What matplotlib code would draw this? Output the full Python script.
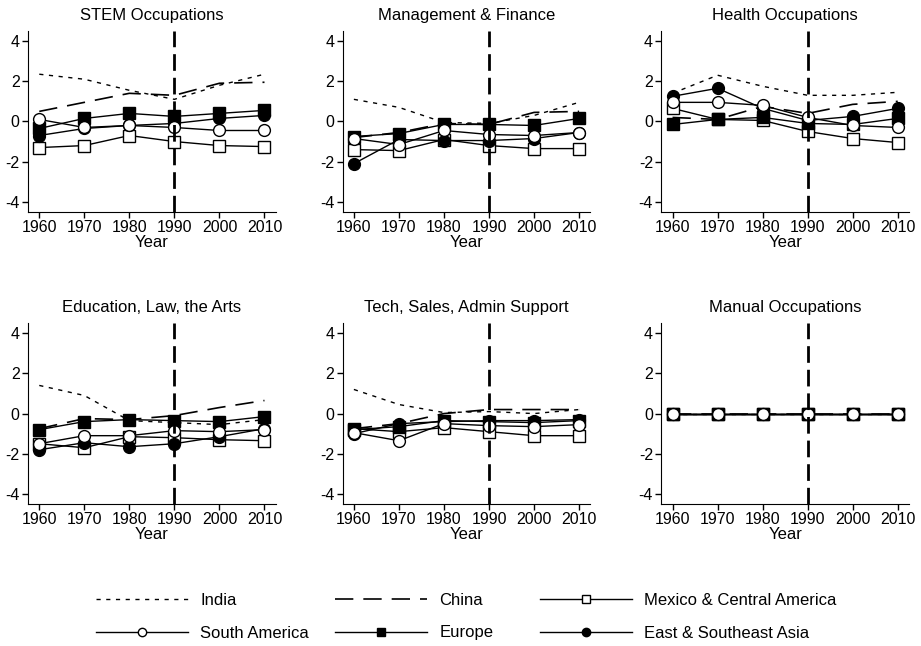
import matplotlib
matplotlib.use('Agg')
import matplotlib.pyplot as plt
from matplotlib.lines import Line2D

plt.rcParams['font.family'] = ['Liberation Sans', 'DejaVu Sans']

years = [1960, 1970, 1980, 1990, 2000, 2010]
panels = ['STEM Occupations', 'Management & Finance', 'Health Occupations',
          'Education, Law, the Arts', 'Tech, Sales, Admin Support', 'Manual Occupations']

# values per region, one list per panel (same order as panels)
india = [
    [2.35, 2.1, 1.55, 1.1, 1.8, 2.35],
    [1.1, 0.7, -0.05, -0.1, 0.3, 0.95],
    [1.4, 2.3, 1.75, 1.3, 1.3, 1.45],
    [1.4, 0.9, -0.35, -0.45, -0.55, -0.3],
    [1.2, 0.45, 0.05, 0.1, 0.0, 0.2],
    [0, 0, 0, 0, 0, 0],
]
china = [
    [0.5, 0.95, 1.4, 1.3, 1.9, 1.95],
    [-0.8, -0.55, -0.1, -0.15, 0.45, 0.5],
    [0.2, 0.1, 0.75, 0.4, 0.85, 1.0],
    [-0.75, -0.25, -0.3, -0.1, 0.3, 0.65],
    [-0.75, -0.5, 0.0, 0.2, 0.2, 0.2],
    [0, 0, 0, 0, 0, 0],
]
mexico = [
    [-1.3, -1.2, -0.7, -1.0, -1.2, -1.25],
    [-1.4, -1.45, -0.9, -1.2, -1.35, -1.35],
    [0.65, 0.1, 0.05, -0.5, -0.85, -1.05],
    [-1.5, -1.7, -1.15, -1.2, -1.3, -1.35],
    [-0.75, -0.9, -0.7, -0.9, -1.1, -1.1],
    [0, 0, 0, 0, 0, 0],
]
south_am = [
    [0.1, -0.3, -0.2, -0.3, -0.45, -0.45],
    [-0.85, -1.15, -0.45, -0.65, -0.7, -0.55],
    [0.95, 0.95, 0.8, 0.2, -0.2, -0.3],
    [-1.5, -1.1, -1.1, -0.85, -0.9, -0.8],
    [-0.95, -1.35, -0.5, -0.6, -0.65, -0.55],
    [0, 0, 0, 0, 0, 0],
]
europe = [
    [-0.35, 0.15, 0.4, 0.25, 0.4, 0.55],
    [-0.75, -0.6, -0.15, -0.15, -0.2, 0.15],
    [-0.15, 0.1, 0.2, -0.1, -0.15, 0.15],
    [-0.8, -0.4, -0.3, -0.35, -0.4, -0.15],
    [-0.8, -0.65, -0.35, -0.4, -0.45, -0.35],
    [0, 0, 0, 0, 0, 0],
]
east_asia = [
    [-0.7, -0.35, -0.2, -0.1, 0.15, 0.3],
    [-2.1, -0.9, -0.95, -0.95, -0.85, -0.55],
    [1.25, 1.65, 0.65, 0.05, 0.25, 0.65],
    [-1.8, -1.45, -1.65, -1.5, -1.15, -0.75],
    [-1.0, -0.5, -0.4, -0.35, -0.35, -0.3],
    [0, 0, 0, 0, 0, 0],
]

styles = {
    'India': dict(ls=(0, (3, 4)), lw=1.0, marker=None),
    'China': dict(ls=(0, (11, 6)), lw=1.2, marker=None),
    'Mexico & Central America': dict(ls='-', lw=1.0, marker='s', mfc='white'),
    'South America': dict(ls='-', lw=1.0, marker='o', mfc='white'),
    'Europe': dict(ls='-', lw=1.0, marker='s', mfc='black'),
    'East & Southeast Asia': dict(ls='-', lw=1.0, marker='o', mfc='black'),
}
data = {
    'India': india, 'China': china, 'Mexico & Central America': mexico,
    'South America': south_am, 'Europe': europe, 'East & Southeast Asia': east_asia,
}
# open circles end up on top of the filled markers
draw_order = ['India', 'China', 'Mexico & Central America', 'Europe',
              'East & Southeast Asia', 'South America']

fig = plt.figure(figsize=(9.21, 6.46), dpi=100)
lefts = [0.0304, 0.372, 0.718]
bottoms = [0.672, 0.2198]
w, h = 0.269, 0.280

for i, title in enumerate(panels):
    ax = fig.add_axes([lefts[i % 3], bottoms[i // 3], w, h])
    for name in draw_order:
        st = styles[name]
        ms = 8 if st['marker'] == 's' else 8.5
        ax.plot(years, data[name][i], color='black', ls=st['ls'], lw=st['lw'],
                marker=st['marker'], ms=ms, mfc=st.get('mfc', 'black'),
                mec='black', mew=1.0)
    ax.axvline(1990, color='black', lw=2.0, ls=(0, (6, 2.5)), zorder=5)
    ax.set_xlim(1957.5, 2012.5)
    ax.set_ylim(-4.5, 4.5)
    ax.set_xticks(years)
    ax.set_yticks([-4, -2, 0, 2, 4])
    ax.set_yticklabels(['-4', '-2', '0', '2', '4'])
    ax.tick_params(labelsize=11.5, length=4, width=1, pad=2)
    for s in ['top', 'right']:
        ax.spines[s].set_visible(False)
    ax.set_title(title, fontsize=12, pad=8)
    ax.set_xlabel('Year', fontsize=12, labelpad=0)


def handle(name):
    st = styles[name]
    return Line2D([], [], color='black', ls=st['ls'], lw=st['lw'],
                  marker=st['marker'], ms=6, mfc=st.get('mfc', 'black'),
                  mec='black', mew=1.0)


# legend laid out as three separate columns
legend_cols = [
    (96, ['India', 'South America']),
    (335, ['China', 'Europe']),
    (540, ['Mexico & Central America', 'East & Southeast Asia']),
]
for x0, names in legend_cols:
    leg = fig.legend([handle(n) for n in names], names, loc='upper left',
                     bbox_to_anchor=(x0 / 921, 1 - 593 / 646), frameon=False,
                     fontsize=12, handlelength=5.5, handletextpad=0.75,
                     labelspacing=1.05, borderpad=0, borderaxespad=0)

fig.savefig('out.png', dpi=100, facecolor='white')
